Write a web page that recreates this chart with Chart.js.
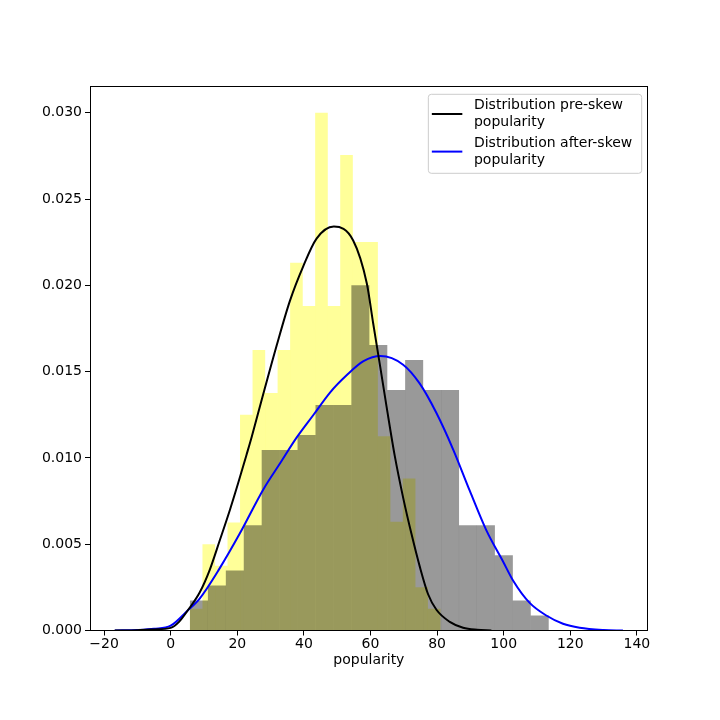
<!DOCTYPE html>
<html>
<head>
<meta charset="utf-8">
<script src="https://cdn.jsdelivr.net/npm/chart.js@4/dist/chart.umd.min.js"></script>
<style>
  html, body { margin: 0; padding: 0; background: #ffffff; }
  #wrap { width: 720px; height: 720px; }
</style>
</head>
<body>
<div id="wrap"><canvas id="c" width="720" height="720"></canvas></div>
<script>
// ---- Histogram of pre-skew popularity (density), 20 bins ----
const preSkewBinCenters = [7.68, 11.44, 15.20, 18.96, 22.72, 26.48, 30.24, 34.00, 37.76, 41.52,
                           45.28, 49.04, 52.80, 56.56, 60.32, 64.08, 67.84, 71.60, 75.36, 79.12];
const preSkewDensity = [0.00125, 0.0050, 0.00375, 0.00625, 0.0125, 0.01625, 0.01375, 0.01625, 0.0213, 0.0188,
                        0.0300, 0.0188, 0.02755, 0.0225, 0.0225, 0.01125, 0.0063, 0.0088, 0.0025, 0.00125];

// ---- Histogram of after-skew popularity (density), 20 bins ----
const afterSkewBinCenters = [8.49, 13.88, 19.26, 24.65, 30.03, 35.42, 40.80, 46.19, 51.57, 56.96,
                             62.34, 67.73, 73.11, 78.50, 83.88, 89.27, 94.65, 100.04, 105.42, 110.81];
const afterSkewDensity = [0.00174, 0.0026, 0.00348, 0.0061, 0.01045, 0.01045, 0.01132, 0.01306, 0.01306, 0.0200,
                          0.01654, 0.01393, 0.01567, 0.01393, 0.01393, 0.0061, 0.0061, 0.00435, 0.00174, 0.00087];

// ---- KDE curves ----
const preSkewKdeX = [-16.8, -10, -5, 0, 2.5, 5.1, 8.7, 11.7, 14.7, 17.8, 20.2, 22.8, 24.3, 27.8, 31.8, 35.8,
                     39.8, 43.8, 49.0, 54.8, 58.9, 60.8, 62.9, 64.8, 67.3, 69.8, 72.3, 74.8, 77.3, 79.8,
                     83.8, 87.8, 92.0, 96.3];
const preSkewKdeY = [0, 0.00002, 0.00006, 0.00015, 0.0005, 0.00116, 0.0022, 0.0035, 0.0052, 0.0070, 0.0085,
                     0.0102, 0.0112, 0.0137, 0.0165, 0.0191, 0.0211, 0.0227, 0.0234, 0.0226, 0.0201, 0.0178,
                     0.0153, 0.0130, 0.0101, 0.0077, 0.0056, 0.0037, 0.0021, 0.0012, 0.0005, 0.00016,
                     0.00004, 0];

const afterSkewKdeX = [-16.8, -10, -5, 0, 5.1, 8.7, 14.7, 20.7, 27.9, 32.9, 37.9, 42.9, 47.9, 52.9, 57.9,
                       63.0, 69.8, 74.8, 79.8, 84.8, 89.8, 94.8, 99.8, 102.8, 107.8, 112.8, 117.8, 122.8,
                       130.0, 135.8];
const afterSkewKdeY = [0, 0.00003, 0.0001, 0.00028, 0.00116, 0.00185, 0.0036, 0.0056, 0.0082, 0.0097, 0.0112,
                       0.0125, 0.0138, 0.0148, 0.0156, 0.0159, 0.0154, 0.0143, 0.0126, 0.0105, 0.0081,
                       0.0058, 0.0040, 0.0029, 0.0016, 0.00087, 0.00039, 0.00016, 0.00003, 0];

const seriesLabels = ['Distribution pre-skew\npopularity', 'Distribution after-skew\npopularity'];
const xTitle = 'popularity';
const xTickValues = [-20, 0, 20, 40, 60, 80, 100, 120, 140];
const yTickValues = [0, 0.005, 0.010, 0.015, 0.020, 0.025, 0.030];

const zip = (xs, ys) => xs.map((x, i) => ({ x: x, y: ys[i] }));

Chart.defaults.font.family = "'DejaVu Sans', 'Liberation Sans', sans-serif";
Chart.defaults.font.size = 14;
Chart.defaults.color = '#000000';

const FONT = "14px 'DejaVu Sans', 'Liberation Sans', sans-serif";

const framePlugin = {
  id: 'frame',
  afterDatasetsDraw(chart) {
    const { ctx, chartArea: a } = chart;
    ctx.save();
    ctx.strokeStyle = '#000000';
    ctx.lineWidth = 1;
    const l = Math.floor(a.left) + 0.5, r = Math.floor(a.right) + 0.5;
    const t = Math.floor(a.top) + 0.5, b = Math.floor(a.bottom) + 0.5;
    ctx.strokeRect(l, t, r - l, b - t);
    ctx.restore();
  },
  afterDraw(chart) {
    // matplotlib-style legend in the upper right of the plot area
    const { ctx, chartArea: a } = chart;
    const items = chart.data.datasets.filter(d => d.type === 'line');
    ctx.save();
    ctx.font = FONT;
    let maxW = 0;
    items.forEach(d => d.label.split('\n').forEach(s => { maxW = Math.max(maxW, ctx.measureText(s).width); }));
    const right = a.right - 6;
    const left = right - (maxW + 55);
    const top = a.top + 7.8;
    const height = 79;
    const rad = 3;
    ctx.beginPath();
    ctx.moveTo(left + rad, top);
    ctx.lineTo(right - rad, top);
    ctx.arcTo(right, top, right, top + rad, rad);
    ctx.lineTo(right, top + height - rad);
    ctx.arcTo(right, top + height, right - rad, top + height, rad);
    ctx.lineTo(left + rad, top + height);
    ctx.arcTo(left, top + height, left, top + height - rad, rad);
    ctx.lineTo(left, top + rad);
    ctx.arcTo(left, top, left + rad, top, rad);
    ctx.closePath();
    ctx.fillStyle = 'rgba(255,255,255,0.8)';
    ctx.fill();
    ctx.strokeStyle = '#cccccc';
    ctx.lineWidth = 1;
    ctx.stroke();
    ctx.textBaseline = 'middle';
    ctx.textAlign = 'left';
    items.forEach((d, i) => {
      const y1 = top + 11.4 + i * 37.6;
      const y2 = y1 + 16.6;
      const lines = d.label.split('\n');
      ctx.beginPath();
      ctx.strokeStyle = d.borderColor;
      ctx.lineWidth = 2;
      const hy = (y1 + y2) / 2;
      ctx.moveTo(left + 3.5, hy);
      ctx.lineTo(left + 34, hy);
      ctx.stroke();
      ctx.fillStyle = '#000000';
      ctx.fillText(lines[0], left + 45.6, y1);
      if (lines[1]) ctx.fillText(lines[1], left + 45.6, y2);
    });
    ctx.restore();
  }
};

const X_MIN = -24.23, X_MAX = 143.24, Y_MAX = 0.031518;

new Chart(document.getElementById('c'), {
  type: 'line',
  data: {
    datasets: [
      {
        type: 'line', label: seriesLabels[0], data: zip(preSkewKdeX, preSkewKdeY),
        borderColor: '#000000', borderWidth: 2, pointRadius: 0, fill: false,
        cubicInterpolationMode: 'monotone', xAxisID: 'x', yAxisID: 'y', order: 0
      },
      {
        type: 'line', label: seriesLabels[1], data: zip(afterSkewKdeX, afterSkewKdeY),
        borderColor: '#0000ff', borderWidth: 2, pointRadius: 0, fill: false,
        cubicInterpolationMode: 'monotone', xAxisID: 'x', yAxisID: 'y', order: 0
      },
      {
        type: 'bar', label: 'pre-skew histogram', data: zip(preSkewBinCenters, preSkewDensity),
        backgroundColor: 'rgba(255,255,0,0.4)', borderWidth: 0, inflateAmount: 0.06, grouped: false,
        barPercentage: 1, categoryPercentage: 1, xAxisID: 'x', yAxisID: 'y', order: 2
      },
      {
        type: 'bar', label: 'after-skew histogram', data: zip(afterSkewBinCenters, afterSkewDensity),
        backgroundColor: 'rgba(0,0,0,0.4)', borderWidth: 0, inflateAmount: 0.06, grouped: false,
        barPercentage: 1, categoryPercentage: 1, xAxisID: 'xg', yAxisID: 'y', order: 1
      }
    ]
  },
  options: {
    responsive: false,
    animation: false,
    events: [],
    layout: { padding: { left: 0, top: 86.5, right: 720 - 647.7, bottom: 50.8 } },
    plugins: { legend: { display: false }, tooltip: { enabled: false }, title: { display: false } },
    scales: {
      x: {
        type: 'linear', position: 'bottom', min: X_MIN, max: X_MAX, offset: false,
        afterFit: s => { s.height = 38.7; },
        afterBuildTicks: s => { s.ticks = xTickValues.map(v => ({ value: v })); },
        ticks: { padding: 0, color: '#000000', font: { size: 14 },
                 callback: v => String(v).replace('-', '\u2212'), maxRotation: 0, autoSkip: false },
        grid: { display: true, drawOnChartArea: false, drawTicks: true, tickLength: 5, color: '#000000', offset: false },
        border: { display: false },
        title: { display: true, text: xTitle, color: '#000000', font: { size: 14 }, padding: 0 }
      },
      xg: {
        type: 'linear', display: false, min: X_MIN, max: X_MAX, offset: false,
        ticks: { stepSize: 50 }, grid: { offset: false }
      },
      y: {
        type: 'linear', position: 'left', min: 0, max: Y_MAX,
        afterFit: s => { s.width = 90; },
        afterBuildTicks: s => { s.ticks = yTickValues.map(v => ({ value: v })); },
        ticks: { padding: 3, color: '#000000', font: { size: 14 }, callback: v => Number(v).toFixed(3) },
        grid: { display: true, drawOnChartArea: false, drawTicks: true, tickLength: 5, color: '#000000' },
        border: { display: false }
      }
    }
  },
  plugins: [framePlugin]
});
</script>
</body>
</html>
